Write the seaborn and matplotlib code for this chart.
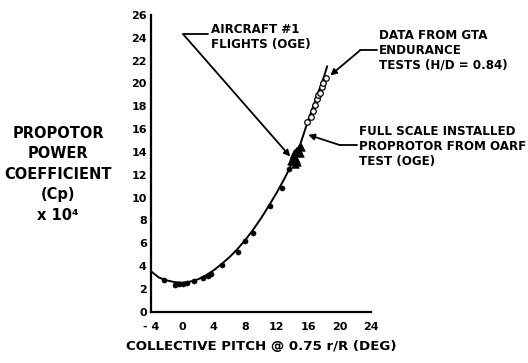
import matplotlib
matplotlib.use("Agg")
import matplotlib.pyplot as plt
import seaborn as sns
import pandas as pd

# Faired curve
curve_x = [-4, -3, -2, -1, 0, 1, 2, 3, 4, 5, 6, 7, 8, 9, 10, 11, 12, 13, 14, 15, 16, 17, 18, 18.4]
curve_y = [3.55, 3.0, 2.75, 2.6, 2.55, 2.65, 2.85, 3.2, 3.65, 4.2, 4.8, 5.5, 6.3, 7.2, 8.2,
           9.3, 10.45, 11.7, 13.1, 14.7, 16.8, 18.7, 20.6, 21.5]

# OARF test points
oarf_x = [-2.4, -1.0, -0.4, 0.1, 0.6, 1.5, 2.6, 3.2, 3.6, 5.0, 7.0, 8.0, 9.0, 11.1, 12.6, 13.6]
oarf_y = [2.75, 2.35, 2.45, 2.4, 2.55, 2.7, 2.95, 3.1, 3.35, 4.1, 5.2, 6.2, 6.9, 9.3, 10.8, 12.5]
# Aircraft #1 flights
ac_x = [13.8, 14.0, 14.2, 14.4, 14.5, 14.7, 14.9, 15.1, 14.3, 14.6]
ac_y = [13.2, 13.6, 13.9, 13.4, 14.1, 14.3, 13.9, 14.4, 12.9, 13.1]
# GTA endurance tests
gta_x = [15.9, 16.3, 16.6, 16.9, 17.1, 17.3, 17.5, 17.7, 17.9, 18.2]
gta_y = [16.6, 17.1, 17.6, 18.1, 18.6, 19.0, 19.2, 19.7, 20.0, 20.5]

x_ticks = [-4, 0, 4, 8, 12, 16, 20, 24]
x_tick_labels = ["- 4", "0", "4", "8", "12", "16", "20", "24"]
y_ticks = list(range(0, 27, 2))

sns.set_style("white")
plt.rcParams['font.family'] = ['DejaVu Sans']
plt.rcParams.update({"text.color": "black", "axes.labelcolor": "black",
                     "xtick.color": "black", "ytick.color": "black"})

fig = plt.figure(figsize=(5.28, 3.63), dpi=100)
ax = fig.add_axes([0.286, 0.141, 0.417, 0.818])

curve = pd.DataFrame({"x": curve_x, "y": curve_y})
sns.lineplot(data=curve, x="x", y="y", color="black", lw=1.4, ax=ax, sort=True)

oarf = pd.DataFrame({"x": oarf_x, "y": oarf_y})
sns.scatterplot(data=oarf, x="x", y="y", marker="o", s=14, color="black", edgecolor="black", ax=ax, zorder=3)
ac = pd.DataFrame({"x": ac_x, "y": ac_y})
sns.scatterplot(data=ac, x="x", y="y", marker="^", s=30, color="black", edgecolor="black", ax=ax, zorder=3)
gta = pd.DataFrame({"x": gta_x, "y": gta_y})
sns.scatterplot(data=gta, x="x", y="y", marker="o", s=16, facecolor="white", edgecolor="black",
                linewidth=0.9, ax=ax, zorder=4)

ax.set_xlim(-4, 24)
ax.set_ylim(0, 26)
ax.set_xticks(x_ticks)
ax.set_xticklabels(x_tick_labels)
ax.set_yticks(y_ticks)
for s in ["top", "right"]:
    ax.spines[s].set_visible(False)
for s in ["left", "bottom"]:
    ax.spines[s].set_color("black")
    ax.spines[s].set_linewidth(1.6)
ax.tick_params(axis="both", direction="in", length=4, width=1.2, color="black", labelsize=8)
ax.tick_params(axis="x", pad=7)
ax.tick_params(axis="y", pad=3)
for lab in ax.get_xticklabels() + ax.get_yticklabels():
    lab.set_fontweight("bold")
ax.set_xlabel("COLLECTIVE PITCH @ 0.75 r/R (DEG)", fontsize=9.6, fontweight="bold", labelpad=6)
ax.set_ylabel("")
ax.grid(False)

fig.text(0.11, 0.52, "PROPOTOR\nPOWER\nCOEFFICIENT\n(Cp)\nx 10⁴", ha="center", va="center",
         fontsize=10.5, fontweight="bold", linespacing=1.45)

ann_kw = dict(fontsize=8.6, fontweight="bold", va="top", ha="left", linespacing=1.2)
arrow_kw = dict(arrowstyle="-|>", color="black", lw=1.3, mutation_scale=9, shrinkA=0, shrinkB=0)

# Aircraft #1 annotation
ax.text(3.6, 25.3, "AIRCRAFT #1\nFLIGHTS (OGE)", **ann_kw)
ax.plot([0.1, 3.3], [24.3, 24.3], color="black", lw=1.3, clip_on=False)
ax.annotate("", xy=(13.7, 13.6), xytext=(0.1, 24.3), arrowprops=arrow_kw)

# GTA annotation
ax.text(25.0, 24.8, "DATA FROM GTA\nENDURANCE\nTESTS (H/D = 0.84)", clip_on=False, **ann_kw)
ax.plot([22.6, 24.8], [22.9, 22.9], color="black", lw=1.3, clip_on=False)
ax.annotate("", xy=(18.8, 20.7), xytext=(22.6, 22.9), arrowprops=arrow_kw, annotation_clip=False)

# OARF annotation
ax.text(22.4, 16.4, "FULL SCALE INSTALLED\nPROPROTOR FROM OARF\nTEST (OGE)", clip_on=False, **ann_kw)
ax.plot([20.0, 22.2], [14.6, 14.6], color="black", lw=1.3, clip_on=False)
ax.annotate("", xy=(16.0, 15.5), xytext=(20.0, 14.6), arrowprops=arrow_kw, annotation_clip=False)

fig.savefig("out.png", dpi=100)
